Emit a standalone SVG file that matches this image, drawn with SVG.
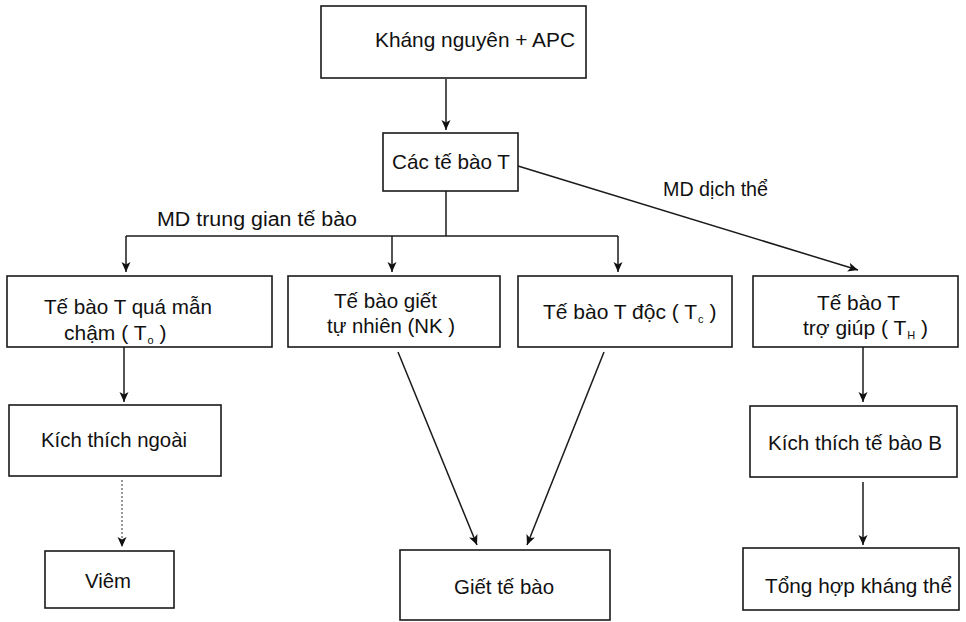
<svg xmlns="http://www.w3.org/2000/svg" width="966" height="622" viewBox="0 0 966 622">
<style>
  .box { fill: #ffffff; stroke: #1a1a1a; stroke-width: 1.6; }
  .t { font-family: "Liberation Sans", Arial, sans-serif; font-size: 21px; fill: #111; }
  .lbl { font-family: "Liberation Sans", Arial, sans-serif; font-size: 20px; fill: #111; }
  .sub { font-size: 11px; }
  .ln { stroke: #1a1a1a; stroke-width: 1.5; fill: none; }
  .arr { marker-end: url(#ah); }
  .dot { stroke: #555; stroke-width: 1.2; stroke-dasharray: 2 2; fill: none; }
</style>
<defs>
  <marker id="ah" markerUnits="userSpaceOnUse" markerWidth="10" markerHeight="10" refX="10" refY="5" orient="auto" viewBox="0 0 10 10">
    <path d="M0,0.5 L10,5 L0,9.5 L2.5,5 z" fill="#111"/>
  </marker>
</defs>
<rect width="966" height="622" fill="#ffffff"/>

<g id="connectors">
  <line class="ln arr" x1="446" y1="79" x2="446" y2="130"/>
  <line class="ln" x1="446" y1="191" x2="446" y2="236"/>
  <line class="ln" x1="126" y1="236" x2="618" y2="236"/>
  <line class="ln arr" x1="126" y1="236" x2="126" y2="272"/>
  <line class="ln arr" x1="392" y1="236" x2="392" y2="272"/>
  <line class="ln arr" x1="618" y1="236" x2="618" y2="272"/>
  <line class="ln arr" x1="518" y1="166" x2="858" y2="270"/>
  <line class="ln arr" x1="124" y1="347" x2="124" y2="402"/>
  <line class="dot arr" x1="122" y1="480" x2="122" y2="547"/>
  <line class="ln arr" x1="398" y1="352" x2="477" y2="545"/>
  <line class="ln arr" x1="604" y1="352" x2="527" y2="545"/>
  <line class="ln arr" x1="863" y1="347" x2="863" y2="402"/>
  <line class="ln arr" x1="863" y1="482" x2="863" y2="545"/>
  <text class="lbl" x="157" y="226" textLength="200" lengthAdjust="spacingAndGlyphs">MD trung gian tế bào</text>
  <text class="lbl" x="663" y="196" textLength="105" lengthAdjust="spacingAndGlyphs">MD dịch thể</text>
</g>

<g id="n-antigen">
  <rect class="box" x="321" y="6" width="265" height="72"/>
  <text class="t" x="375" y="47" textLength="200" lengthAdjust="spacingAndGlyphs">Kháng nguyên + APC</text>
</g>
<g id="n-tcells">
  <rect class="box" x="383" y="133" width="135" height="58"/>
  <text class="t" x="392" y="169" textLength="118" lengthAdjust="spacingAndGlyphs">Các tế bào T</text>
</g>
<g id="n-td">
  <rect class="box" x="7" y="276" width="265" height="71"/>
  <text class="t" x="44" y="314" textLength="168" lengthAdjust="spacingAndGlyphs">Tế bào T quá mẫn</text>
  <text class="t" x="64" y="340">chậm ( T<tspan class="sub" dx="1" dy="4">o</tspan><tspan dy="-4"> )</tspan></text>
</g>
<g id="n-nk">
  <rect class="box" x="288" y="276" width="212" height="71"/>
  <text class="t" x="334" y="308" textLength="103" lengthAdjust="spacingAndGlyphs">Tế bào giết</text>
  <text class="t" x="327" y="333" textLength="128" lengthAdjust="spacingAndGlyphs">tự nhiên (NK )</text>
</g>
<g id="n-tc">
  <rect class="box" x="518" y="276" width="214" height="71"/>
  <text class="t" x="543" y="319">Tế bào T độc ( T<tspan class="sub" dx="1" dy="4">c</tspan><tspan dy="-4"> )</tspan></text>
</g>
<g id="n-th">
  <rect class="box" x="753" y="276" width="205" height="71"/>
  <text class="t" x="817" y="310" textLength="83" lengthAdjust="spacingAndGlyphs">Tế bào T</text>
  <text class="t" x="803" y="335">trợ giúp ( T<tspan class="sub" dx="1" dy="4">H</tspan><tspan dy="-4"> )</tspan></text>
</g>
<g id="n-kichthichngoai">
  <rect class="box" x="9" y="405" width="212" height="71"/>
  <text class="t" x="41" y="447" textLength="146" lengthAdjust="spacingAndGlyphs">Kích thích ngoài</text>
</g>
<g id="n-viem">
  <rect class="box" x="45" y="551" width="129" height="57"/>
  <text class="t" x="85" y="588" textLength="46" lengthAdjust="spacingAndGlyphs">Viêm</text>
</g>
<g id="n-giet">
  <rect class="box" x="400" y="550" width="210" height="70"/>
  <text class="t" x="454" y="594" textLength="100" lengthAdjust="spacingAndGlyphs">Giết tế bào</text>
</g>
<g id="n-kichthichB">
  <rect class="box" x="750" y="406" width="207" height="71"/>
  <text class="t" x="768" y="450" textLength="174" lengthAdjust="spacingAndGlyphs">Kích thích tế bào B</text>
</g>
<g id="n-tonghop">
  <rect class="box" x="743" y="548" width="216" height="62"/>
  <text class="t" x="765" y="593" textLength="187" lengthAdjust="spacingAndGlyphs">Tổng hợp kháng thể</text>
</g>
</svg>
